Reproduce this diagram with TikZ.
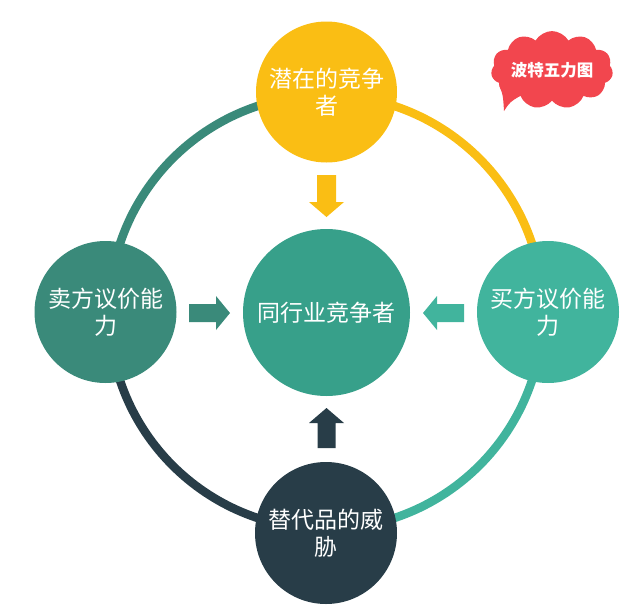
\documentclass[tikz,border=0pt]{standalone}
\usepackage{fontspec}
\newfontfamily\cjk{Noto Sans CJK SC}
\usetikzlibrary{shapes.symbols}
\definecolor{cyellow}{HTML}{FABE14}
\definecolor{cleft}{HTML}{3A8A7A}
\definecolor{ccenter}{HTML}{37A08A}
\definecolor{cright}{HTML}{41B49D}
\definecolor{cdark}{HTML}{283D48}
\definecolor{cred}{HTML}{F2464E}
\begin{document}
\begin{tikzpicture}[x=1pt,y=-1pt,
  ring/.style={line width=8.5pt},
  force/.style={circle, inner sep=0pt, minimum size=142pt, text=white,
    align=center, font=\cjk\fontsize{23}{27}\selectfont}]
\useasboundingbox (0,0) rectangle (640,608);
% ring
\coordinate (O) at (326,312);
\draw[ring, cleft]   (326,95) arc[start angle=-90, end angle=-180, radius=217];
\draw[ring, cyellow] (326,95) arc[start angle=-90, end angle=0, radius=217];
\draw[ring, cright]  (543,312) arc[start angle=0, end angle=90, radius=217];
\draw[ring, cdark]   (109,312) arc[start angle=-180, end angle=-270, radius=217];
% circles
\node[force, fill=cyellow, minimum size=141pt] (top) at (326.5,92) {潜在的竞争\\者};
\node[force, fill=cleft] (left) at (105.5,312) {卖方议价能\\力};
\node[force, fill=cright] (right) at (548,312) {买方议价能\\力};
\node[force, fill=cdark] (bottom) at (326,533) {替代品的威\\胁};
\node[force, fill=ccenter, minimum size=167pt] (center) at (326.5,312.5) {同行业竞争者};
% block arrows
\fill[cyellow] (317,175) -- (336,175) -- (336,202) -- (344,202) -- (326.5,217) -- (309,202) -- (317,202) -- cycle;
\fill[cdark] (317.5,448) -- (335.5,448) -- (335.5,423) -- (344,423) -- (326.5,408) -- (309,423) -- (317.5,423) -- cycle;
\fill[cleft] (189,304) -- (216,304) -- (216,296) -- (230,313) -- (216,330) -- (216,322) -- (189,322) -- cycle;
\fill[cright] (464,304) -- (437,304) -- (437,296) -- (423,313) -- (437,330) -- (437,322) -- (464,322) -- cycle;
% cloud callout
\coordinate (tip) at (504,111);
\fill[cred] (499,84) .. controls (503,95) .. (tip) .. controls (510,102) .. (520,96) -- cycle;
\node[cloud, fill=cred, draw=none, cloud puffs=11, cloud puff arc=120,
  aspect=1.9, minimum width=114pt, minimum height=62pt, inner sep=0pt, text=white,
  font=\cjk\bfseries\fontsize{16.5}{18}\selectfont] (title) at (552,70) {波特五力图};
\end{tikzpicture}
\end{document}
